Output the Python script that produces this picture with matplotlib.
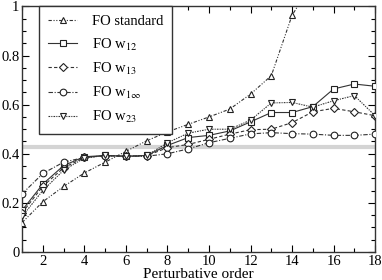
import matplotlib
matplotlib.use("Agg")
import matplotlib.pyplot as plt
from matplotlib.ticker import MultipleLocator

plt.rcParams['font.family'] = ['Liberation Serif', 'DejaVu Serif']
plt.rcParams['mathtext.fontset'] = 'stix'

orders = list(range(1, 19))
fo_standard = [0.12, 0.205, 0.267, 0.322, 0.366, 0.41, 0.453, 0.489, 0.52, 0.55,
               0.582, 0.643, 0.718, 0.964, 1.10]
fo_w12 = [0.17, 0.277, 0.352, 0.388, 0.393, 0.39, 0.393, 0.434, 0.466, 0.475,
          0.493, 0.53, 0.568, 0.568, 0.592, 0.664, 0.684, 0.675]
fo_w13 = [0.16, 0.268, 0.343, 0.385, 0.392, 0.39, 0.392, 0.425, 0.438, 0.459,
          0.48, 0.498, 0.5, 0.527, 0.571, 0.585, 0.571, 0.555]
fo_w1inf = [0.237, 0.32, 0.366, 0.385, 0.392, 0.39, 0.39, 0.40, 0.42, 0.445,
            0.463, 0.481, 0.486, 0.482, 0.48, 0.475, 0.475, 0.48]
fo_w23 = [0.145, 0.251, 0.333, 0.383, 0.393, 0.39, 0.393, 0.445, 0.484, 0.50,
          0.50, 0.537, 0.607, 0.609, 0.59, 0.616, 0.637, 0.555]
band_value = 0.429

labels = ["FO standard", "FO w$_{12}$", "FO w$_{13}$", r"FO w$_{1\infty}$", "FO w$_{23}$"]

fig = plt.figure(figsize=(3.82, 2.80), dpi=100)
ax = fig.add_axes([0.058, 0.1, 0.924, 0.877])

ax.axhline(band_value, color='#d4d4d4', lw=3, zorder=1)

common = dict(color='#333333', lw=0.8, mfc='white', mec='#222222', mew=0.8, zorder=3)
ax.plot(orders[:len(fo_standard)], fo_standard, marker='^', ms=4.8,
        linestyle=(0, (3, 1.5, 1, 1.5, 1, 1.5)), label=labels[0], **common)
ax.plot(orders, fo_w12, marker='s', ms=4.3, linestyle='-', label=labels[1], **common)
ax.plot(orders, fo_w13, marker='D', ms=3.6, linestyle=(0, (3, 2)), label=labels[2], **common)
ax.plot(orders, fo_w1inf, marker='o', ms=4.8, linestyle=(0, (4, 1.5, 1, 1.5)), label=labels[3], **common)
ax.plot(orders, fo_w23, marker='v', ms=4.8, linestyle=(0, (1.5, 1, 1, 1)), label=labels[4], **common)

ax.set_xlim(1, 18)
ax.set_ylim(0, 1)
ax.xaxis.set_minor_locator(MultipleLocator(1))
ax.yaxis.set_minor_locator(MultipleLocator(0.05))
ax.set_xticks(range(2, 19, 2))
ax.set_yticks([0, 0.2, 0.4, 0.6, 0.8, 1.0])
ax.set_yticklabels(['0', '0.2', '0.4', '0.6', '0.8', '1'])
ax.tick_params(which='both', direction='in', top=True, right=True, labelsize=10.5, pad=2)
ax.tick_params(which='major', length=5, width=0.8)
ax.tick_params(which='minor', length=3, width=0.8)
for s in ax.spines.values():
    s.set_linewidth(1.0)
    s.set_color('#333333')

ax.set_xlabel("Perturbative order", fontsize=11, labelpad=0)

leg = ax.legend(loc='upper left', bbox_to_anchor=(0.049, 1.0), fontsize=10.5,
                frameon=True, fancybox=False, edgecolor='#333333', framealpha=1,
                borderaxespad=0, handlelength=2.0, labelspacing=0.55,
                handletextpad=1.0, borderpad=0.6)
leg.get_frame().set_linewidth(1.0)

fig.savefig("out.png", dpi=100)
